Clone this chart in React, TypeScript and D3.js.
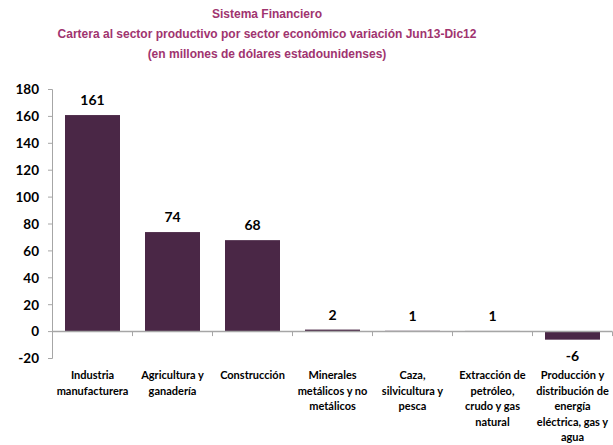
import React from "react";
import * as d3 from "d3";

const titleLines = [
  "Sistema Financiero",
  "Cartera al sector productivo por sector económico variación Jun13-Dic12",
  "(en millones de dólares estadounidenses)",
];

const categories = [
  ["Industria", "manufacturera"],
  ["Agricultura y", "ganadería"],
  ["Construcción"],
  ["Minerales", "metálicos y no", "metálicos"],
  ["Caza,", "silvicultura y", "pesca"],
  ["Extracción de", "petróleo,", "crudo y gas", "natural"],
  ["Producción y", "distribución de", "energía", "eléctrica, gas y", "agua"],
];

const values = [161, 74, 68, 1.5, 0.6, 0.5, -6];

const yTicks = [-20, 0, 20, 40, 60, 80, 100, 120, 140, 160, 180];

const W = 613;
const H = 445;
const barColor = "#4a2746";
const titleColor = "#a0346f";
const axisColor = "#a6a6a6";
const font = "Lato, 'Open Sans', sans-serif";

export default function App() {
  const keys = categories.map((_, i) => String(i));
  const x = d3
    .scaleBand<string>()
    .domain(keys)
    .range([52.5, 612.5])
    .paddingInner(0.3125)
    .paddingOuter(0.15625);
  const y = d3.scaleLinear().domain([-20, 180]).range([358.5, 89.5]);
  const locale = d3.formatLocale({
    decimal: ".",
    thousands: ",",
    grouping: [3],
    currency: ["", ""],
    minus: "-",
  });
  const fmt = locale.format(".0f");
  const step = x.step();

  return (
    <svg
      width={W}
      height={H}
      style={{ position: "absolute", left: 0, top: 0, background: "#fff" }}
    >
      {titleLines.map((t, i) => (
        <text
          key={i}
          x={267}
          y={18 + i * 20}
          textAnchor="middle"
          fill={titleColor}
          fontFamily="'Liberation Sans', Arial, sans-serif"
          fontWeight="bold"
          fontSize={12}
        >
          {t}
        </text>
      ))}

      {/* bars */}
      {values.map((v, i) => (
        <rect
          key={i}
          x={x(keys[i])!}
          width={x.bandwidth()}
          y={Math.min(y(v), y(0))}
          height={Math.abs(y(v) - y(0))}
          fill={barColor}
        />
      ))}

      {/* y axis */}
      <line x1={52.5} x2={52.5} y1={y(180)} y2={y(-20)} stroke={axisColor} strokeWidth={1} />
      {yTicks.map((t) => (
        <g key={t}>
          <line x1={48} x2={52.5} y1={y(t)} y2={y(t)} stroke={axisColor} />
          <text
            x={39}
            y={y(t)}
            dy="0.36em"
            textAnchor="end"
            fontFamily={font}
            fontWeight="bold"
            fontSize={13.5}
            fill="#000"
          >
            {fmt(t)}
          </text>
        </g>
      ))}

      {/* x axis at zero */}
      <line x1={52.5} x2={612.5} y1={y(0)} y2={y(0)} stroke={axisColor} strokeWidth={1.5} />
      {keys.map((k, i) => (
        <line
          key={k}
          x1={52.5 + (i + 1) * step}
          x2={52.5 + (i + 1) * step}
          y1={y(0)}
          y2={y(0) + 4.5}
          stroke={axisColor}
        />
      ))}

      {/* value labels */}
      {values.map((v, i) => (
        <text
          key={i}
          x={x(keys[i])! + x.bandwidth() / 2}
          y={v >= 0 ? y(v) - 10 : y(v) + 21}
          textAnchor="middle"
          fontFamily={font}
          fontWeight="bold"
          fontSize={14}
          fill="#000"
        >
          {fmt(v)}
        </text>
      ))}

      {/* category labels */}
      {categories.map((lines, i) => (
        <text
          key={i}
          textAnchor="middle"
          fontFamily={font}
          fontWeight="bold"
          fontSize={11}
          fill="#000"
        >
          {lines.map((l, j) => (
            <tspan key={j} x={x(keys[i])! + x.bandwidth() / 2} y={379 + j * 15.6}>
              {l}
            </tspan>
          ))}
        </text>
      ))}
    </svg>
  );
}
